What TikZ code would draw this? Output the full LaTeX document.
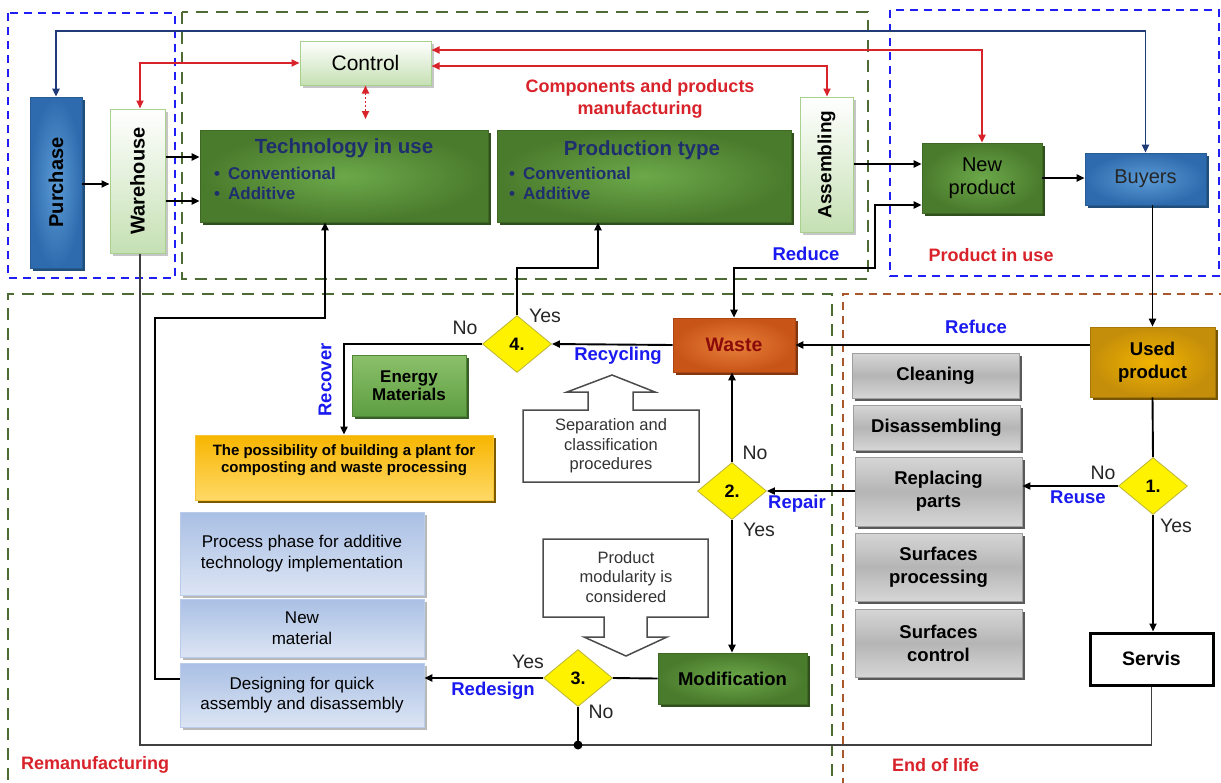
\documentclass[tikz,border=0pt]{standalone}
\usepackage{fontspec}
\setmainfont{Liberation Sans}
\usepackage{graphicx}
\usetikzlibrary{shapes.geometric,shadows,arrows.meta,calc}
\definecolor{navyl}{HTML}{1F3B78}
\definecolor{myred}{HTML}{D9232B}
\definecolor{myblue}{HTML}{1A1AF0}
\definecolor{dashblue}{HTML}{1E1EF5}
\definecolor{dashgreen}{HTML}{4E6B35}
\definecolor{dashbrown}{HTML}{A8582A}
\definecolor{techblue}{HTML}{1F2F6E}
\definecolor{dgin}{HTML}{6CA94A}
\definecolor{dgout}{HTML}{4A7A2C}
\definecolor{dgshadow}{HTML}{2F4F1C}
\definecolor{pgreen}{HTML}{C5E0B3}
\definecolor{pgdraw}{HTML}{A9D18E}
\definecolor{bin}{HTML}{5B9BD5}
\definecolor{bout}{HTML}{2E6BAE}
\definecolor{bshadow}{HTML}{1F4E79}
\definecolor{lbtop}{HTML}{A9BFE4}
\definecolor{lbbot}{HTML}{DCE5F4}
\definecolor{wastein}{HTML}{E8803A}
\definecolor{wasteout}{HTML}{C85418}
\definecolor{wastetxt}{HTML}{8B0A0A}
\definecolor{usedin}{HTML}{F2B400}
\definecolor{usedout}{HTML}{C48D0A}
\definecolor{compt}{HTML}{F7B500}
\definecolor{compb}{HTML}{FFD966}
\definecolor{entop}{HTML}{8BC06A}
\definecolor{enbot}{HTML}{5E9E42}
\newcommand\fsz[2]{\fontsize{#1}{#2}\selectfont}
\begin{document}
\begin{tikzpicture}[x=1pt,y=-1pt,
  >={Triangle[length=8pt,width=7pt]},
  shd/.style={drop shadow={shadow xshift=3pt,shadow yshift=-3pt,opacity=1,fill=#1}},
  boxbase/.style={rectangle, inner sep=2pt, align=center, font=\fsz{18.5}{23}\bfseries},
  darkbox/.style={boxbase, inner color=dgin, outer color=dgout, draw=dgout!85!black, line width=0.6pt, shd=dgshadow},
  palebox/.style={boxbase, top color=white, bottom color=pgreen, draw=pgdraw, line width=1pt, shd=gray!45},
  bluebox/.style={boxbase, inner color=bin, outer color=bout, draw=bout!85!black, line width=0.6pt, shd=bshadow},
  graybox/.style={boxbase, top color=gray!32, bottom color=gray!32, middle color=gray!58, draw=gray!75, line width=0.8pt, shd=gray!70!black},
  lbbox/.style={boxbase, font=\fsz{17}{20.5}, top color=lbtop, bottom color=lbbot, draw=lbtop!80!white, line width=0.6pt, shd=gray!55},
  dia/.style={diamond, fill=yellow, draw=yellow!70!black, line width=0.8pt, inner sep=0pt, minimum width=69pt, minimum height=57pt, font=\fsz{18}{20}\bfseries},
  conn/.style={line width=1.9pt, draw=black},
  redl/.style={line width=1.9pt, draw=myred},
  navl/.style={line width=1.9pt, draw=navyl},
  bluedash/.style={draw=dashblue, line width=2.8pt, dash pattern=on 8pt off 6pt},
  greendash/.style={draw=dashgreen, line width=2.6pt, dash pattern=on 12pt off 8pt},
  browndash/.style={draw=dashbrown, line width=2.6pt, dash pattern=on 8pt off 6pt},
  redlab/.style={font=\fsz{18}{22}\bfseries, text=myred, inner sep=0pt},
  bluelab/.style={font=\fsz{18.5}{22}\bfseries, text=myblue, inner sep=0pt},
  yn/.style={font=\fsz{19.5}{22}, text=black!85, inner sep=0pt},
  callout/.style={draw=black!70, line width=1.5pt, fill=white},
  calltxt/.style={font=\fsz{16.5}{19.5}, text=black!80, align=center, inner sep=0pt}
]
\clip (0,0) rectangle (1221,782);
\fill[white] (0,0) rectangle (1221,782);

% ---------- regions ----------
\draw[bluedash] (8,13) rectangle (175,278);
\draw[greendash] (182,12) rectangle (868,279);
\draw[bluedash] (890,10) rectangle (1219,276);
\draw[greendash] (8,800) -- (8,294) -- (832,294) -- (832,800);
\draw[browndash] (843,800) -- (843,294) -- (1240,294);

\node[redlab, align=center] (lcomp) at (640,99) {Components and products\\manufacturing};
\node[redlab] (lpiu) at (991,255) {Product in use};
\node[redlab, anchor=west] (lremanu) at (21,765) {Remanufacturing};
\node[redlab, anchor=west] (lend) at (892,765) {End of life};

% ---------- top nodes ----------
\node[bluebox, minimum width=52pt, minimum height=171pt, font=\fsz{20}{22}\bfseries] (purchase) at (56,182.5) {\rotatebox{90}{Purchase}};
\node[palebox, minimum width=55pt, minimum height=144pt, font=\fsz{20}{22}\bfseries] (warehouse) at (137.5,181) {\rotatebox{90}{Warehouse}};
\node[palebox, minimum width=131pt, minimum height=44pt, font=\fsz{21}{24}] (control) at (365.5,63) {Control};
\node[darkbox, minimum width=288pt, minimum height=92pt] (tech) at (344,176) {};
\node[darkbox, minimum width=294pt, minimum height=92pt] (prod) at (644,176) {};
\node[palebox, minimum width=53pt, minimum height=135pt, font=\fsz{19}{22}\bfseries] (assem) at (826.5,164.5) {\rotatebox{90}{Assembling}};
\node[darkbox, minimum width=120pt, minimum height=70pt, font=\fsz{20}{23}] (newp) at (982,178) {New\\product};
\node[bluebox, minimum width=121pt, minimum height=52pt, font=\fsz{20}{23}, text=black!85] (buyers) at (1145.5,179) {Buyers};

\node[font=\fsz{20.5}{24}\bfseries, text=techblue, inner sep=0pt] (techT) at (344,148) {Technology in use};
\node[font=\fsz{17}{20}\bfseries, text=techblue, align=left, anchor=west, inner sep=0pt] (techB) at (214,183) {\textbullet\hspace{8pt}Conventional\\\textbullet\hspace{8pt}Additive};
\node[font=\fsz{20.5}{24}\bfseries, text=techblue, inner sep=0pt] (prodT) at (642,150) {Production type};
\node[font=\fsz{17}{20}\bfseries, text=techblue, align=left, anchor=west, inner sep=0pt] (prodB) at (509,183) {\textbullet\hspace{8pt}Conventional\\\textbullet\hspace{8pt}Additive};

% ---------- lower nodes ----------
\node[boxbase, inner color=usedin, outer color=usedout, draw=usedout!85!black, line width=0.6pt, shd=usedout!60!black, minimum width=125pt, minimum height=70pt] (used) at (1152.5,362) {Used\\product};
\node[boxbase, inner color=wastein, outer color=wasteout, draw=wasteout!85!black, line width=0.6pt, shd=wasteout!65!black, text=wastetxt, font=\fsz{19.5}{23}\bfseries, minimum width=122pt, minimum height=54pt] (waste) at (734,345) {Waste};

\node[dia] (d4) at (517,344) {4.};
\node[dia] (d2) at (732,491) {2.};
\node[dia] (d1) at (1153,486) {1.};
\node[dia] (d3) at (578,678) {3.};

\node[darkbox, minimum width=149pt, minimum height=51pt] (modif) at (732.5,678.5) {Modification};
\node[boxbase, fill=white, draw=black, line width=3pt, minimum width=123pt, minimum height=52pt, font=\fsz{19.5}{23}\bfseries] (servis) at (1151.5,659) {Servis};

\node[graybox, minimum width=167pt, minimum height=45pt] (clean) at (935.5,375.5) {Cleaning};
\node[graybox, minimum width=167pt, minimum height=45pt] (disas) at (936.5,427.5) {Disassembling};
\node[graybox, minimum width=167pt, minimum height=69pt] (repl) at (938.5,491.5) {Replacing\\parts};
\node[graybox, minimum width=167pt, minimum height=68pt] (surfp) at (938.5,567) {Surfaces\\processing};
\node[graybox, minimum width=167pt, minimum height=68pt] (surfc) at (938.5,643) {Surfaces\\control};

\node[boxbase, top color=entop, bottom color=enbot, draw=enbot!85!black, line width=0.6pt, shd=enbot!60!black, minimum width=114pt, minimum height=61pt, font=\fsz{17}{18}\bfseries] (energy) at (409,385.5) {Energy\\Materials};
\node[boxbase, top color=compt, bottom color=compb, draw=compt!80!white, line width=0.8pt, shd=compt!50!black, minimum width=298pt, minimum height=65pt] (compost) at (344,467.5) {};
\node[font=\fsz{15}{17.5}\bfseries, align=center, inner sep=0pt] (compostT) at (344,460) {The possibility of building a plant for\\composting and waste processing};

\node[lbbox, minimum width=244pt, minimum height=83pt] (proc) at (302,553.5) {Process phase for additive\\technology implementation};
\node[lbbox, minimum width=244pt, minimum height=58pt] (newmat) at (302,628) {New\\material};
\node[lbbox, minimum width=244pt, minimum height=64pt] (design) at (302,695) {Designing for quick\\assembly and disassembly};

% callouts
\draw[callout] (523,482) -- (523,410) -- (588,410) -- (588,392) -- (567,392) -- (612,375) -- (655,392) -- (633,392) -- (633,410) -- (699,410) -- (699,482) -- cycle;
\node[calltxt] (sepT) at (611,446) {Separation and\\classification\\procedures};
\draw[callout] (543,539) -- (708,539) -- (708,617) -- (647,617) -- (647,637) -- (667,637) -- (626,656) -- (584,637) -- (604,637) -- (604,617) -- (543,617) -- cycle;
\node[calltxt] (modT) at (626,577) {Product\\modularity is\\considered};

% ---------- connectors ----------
\draw[navl,<->] (purchase.north) -- (purchase.north |- 0,31) -| (buyers.north);
\draw[redl,<->] ([xshift=2.5pt]warehouse.north) |- (control.west);
\draw[redl,<->] (control.east |- 0,50) -| (newp.north);
\draw[redl,<->] (control.east |- 0,66) -| ([xshift=0.5pt]assem.north);
\coordinate (ctdot) at (control.south |- 0,119);
\draw[redl,dotted,<->] (control.south) -- (ctdot);

\draw[conn,->] (purchase.east |- 0,184) -- (warehouse.west |- 0,184);
\draw[conn,->] (warehouse.east |- 0,157) -- (tech.west |- 0,157);
\draw[conn,->] (warehouse.east |- 0,201) -- (tech.west |- 0,201);
\draw[conn,->] (assem.east |- 0,164) -- (newp.west |- 0,164);
\draw[conn,->] (newp.east) -- (buyers.west |- newp.east);
\draw[conn,<->] (waste.north) -- (waste.north |- 0,268) -- (875,268) |- (newp.west |- 0,205);
\node[bluelab] (lreduce) at (806,254) {Reduce};

\draw[conn,->] (used.north |- buyers.south) -- (used.north);
\draw[conn,->] (used.west |- waste.east) -- (waste.east);
\node[bluelab] (lrefuce) at (976,327) {Refuce};

\draw[conn] (used.south) -- (d1.north);
\draw[conn,->] (d1.west) -- (d1.west -| repl.east);
\node[yn] (no1) at (1103,473) {No};
\node[bluelab] (lreuse) at (1078,497) {Reuse};
\draw[conn,->] (d1.south) -- (d1.south |- servis.north);
\node[yn] (yes1) at (1176,526) {Yes};

\coordinate (jn) at (d3.south |- 0,745);
\draw[line width=1.9pt, draw=black!75] ([xshift=2.5pt]warehouse.south) -- ([xshift=2.5pt]warehouse.south |- jn) -- (jn) -- (servis.south |- jn) -- (servis.south);
\draw[conn] (d3.south) -- (jn);
\fill (jn) circle (4.5);
\node[yn] (no3) at (601,712) {No};

\draw[conn] (modif.west) -- (d3.east);
\draw[conn,->] (d3.west) -- (design.east |- d3.west);
\node[yn] (yes3) at (528,662) {Yes};
\node[bluelab] (lredesign) at (493,691) {Redesign};
\draw[conn,->] (design.west |- 0,679) -- (155,679) -- (155,318) -- (325,318) -- (tech.south -| 325,0);

\draw[conn,->] (d2.south) -- (d2.south |- modif.north);
\node[yn] (yes2) at (759,530) {Yes};
\draw[conn,->] (d2.north) -- (d2.north |- waste.south);
\node[yn] (no2) at (755,453) {No};
\draw[conn,->] (repl.west |- d2.east) -- (d2.east);
\node[bluelab] (lrepair) at (797,504) {Repair};

\draw[conn,->] (waste.west) -- (d4.east);
\node[bluelab] (lrecycling) at (618,356) {Recycling};
\draw[conn,->] (d4.north) -- (d4.north |- 0,268) -| (prod.south -| 598,0);
\node[yn] (yes4) at (545,316) {Yes};
\draw[conn,->] (d4.west) -| (compost.north);
\node[yn] (no4) at (465,328) {No};
\node[bluelab] (lrecover) at (325,380) {\rotatebox{90}{Recover}};
\end{tikzpicture}
\end{document}
